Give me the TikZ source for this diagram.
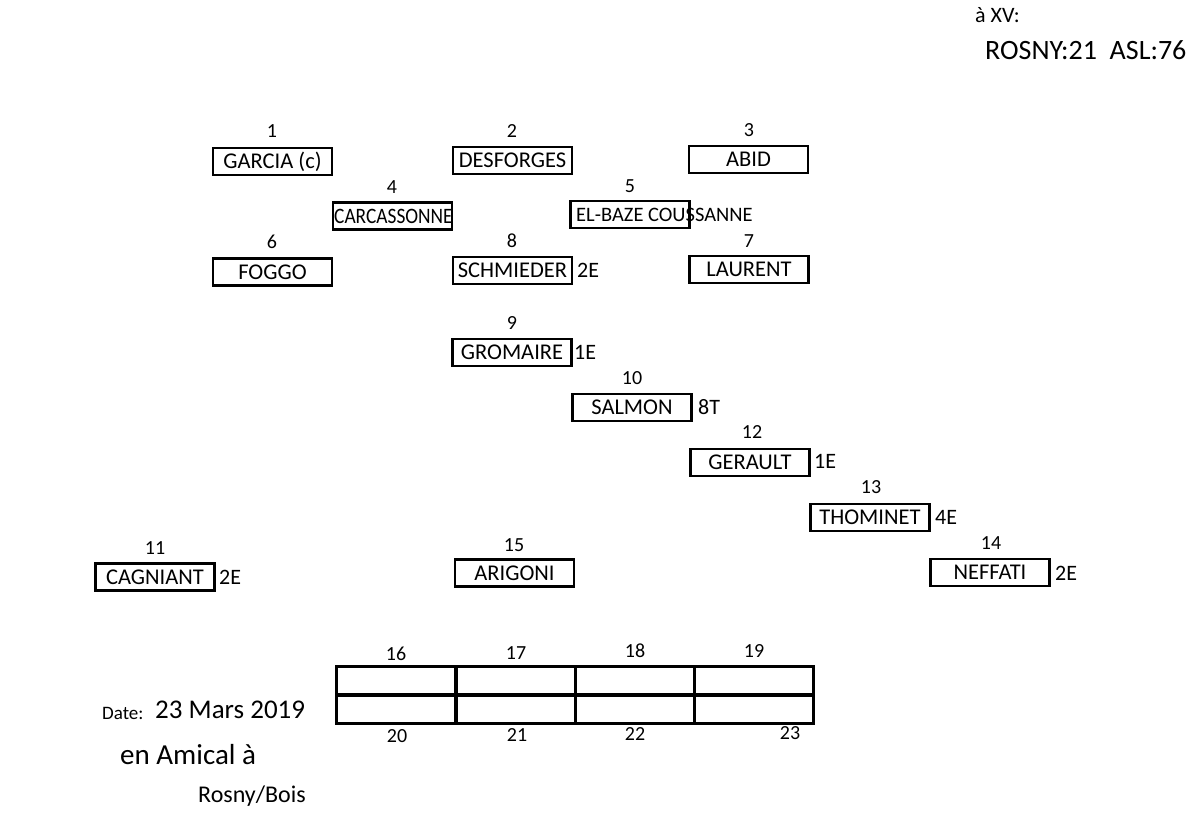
\documentclass[tikz,border=0pt]{standalone}
\usepackage{fontspec}
\setmainfont{Carlito}
\begin{document}
\begin{tikzpicture}[x=1pt,y=-1pt,
  seat/.style={draw,line width=2.8pt,minimum width=119pt,minimum height=27pt,inner sep=0pt,font=\fontsize{22.5}{22.5}\selectfont},
  cell/.style={draw,line width=3pt,minimum width=119pt,minimum height=28pt,inner sep=0pt},
  num/.style={font=\fontsize{20}{20}\selectfont,inner sep=0pt},
  note/.style={font=\fontsize{22}{22}\selectfont,inner sep=0pt,anchor=west},
  hand/.style={font=\fontsize{27}{27}\selectfont,inner sep=0pt,anchor=west}]
\useasboundingbox[fill=white] (0,0) rectangle (1200,839);
% seats
\node[seat] (p1) at (272.5,161.5) {GARCIA (c)};
\node[seat] (p2) at (512.5,160.5) {DESFORGES};
\node[seat] (p3) at (748.5,159.5) {ABID};
\node[seat] (p4) at (392.5,216) {};
\node[note] (t4) at (334,216) {\scalebox{0.88}[1]{CARCASSONNE}};
\node[seat] (p5) at (630,214.5) {};
\node[note,font=\fontsize{20.5}{20.5}\selectfont] (t5) at (576,215) {EL-BAZE COUSSANNE};
\node[seat] (p6) at (272.5,272) {FOGGO};
\node[seat] (p7) at (749,269.5) {LAURENT};
\node[seat] (p8) at (512.5,270.5) {SCHMIEDER};
\node[seat] (p9) at (512,352.5) {GROMAIRE};
\node[seat] (p10) at (632,407.5) {SALMON};
\node[seat] (p11) at (155,577) {CAGNIANT};
\node[seat] (p12) at (750,462.5) {GERAULT};
\node[seat] (p13) at (870,517.5) {THOMINET};
\node[seat] (p14) at (990,572.5) {NEFFATI};
\node[seat] (p15) at (514.5,573) {ARIGONI};
% numbers
\node[num] (n1) at (272,131) {1};
\node[num] (n2) at (512,131) {2};
\node[num] (n3) at (749,130) {3};
\node[num] (n4) at (392,187) {4};
\node[num] (n5) at (630,186) {5};
\node[num] (n6) at (272,242) {6};
\node[num] (n7) at (749,241) {7};
\node[num] (n8) at (512,241) {8};
\node[num] (n9) at (512,323) {9};
\node[num] (n10) at (632,378) {10};
\node[num] (n11) at (155,548) {11};
\node[num] (n12) at (752,432) {12};
\node[num] (n13) at (871,487) {13};
\node[num] (n14) at (991,543) {14};
\node[num] (n15) at (514,545) {15};
% side notes
\node[note] (e8) at (577,270) {2E};
\node[note] (e9) at (574,352) {1E};
\node[note] (e10) at (698,407) {8T};
\node[note] (e11) at (219,577) {2E};
\node[note] (e12) at (814,461) {1E};
\node[note] (e13) at (935,517) {4E};
\node[note] (e14) at (1055,573) {2E};
% table
\node[cell] (c16) at (395.5,680.5) {};
\node[cell] (c17) at (515.5,680.5) {};
\node[cell] (c18) at (634.5,680.5) {};
\node[cell] (c19) at (753.5,680.5) {};
\node[cell] (c20) at (395.5,709) {};
\node[cell] (c21) at (515.5,709) {};
\node[cell] (c22) at (634.5,709) {};
\node[cell] (c23) at (753.5,709) {};
\node[num] (n16) at (396,654) {16};
\node[num] (n17) at (516,653) {17};
\node[num] (n18) at (635,651) {18};
\node[num] (n19) at (754,651) {19};
\node[num] (n20) at (397,736) {20};
\node[num] (n21) at (517,735) {21};
\node[num] (n22) at (635,734) {22};
\node[num] (n23) at (790,733) {23};
% date
\node[inner sep=0pt,anchor=west,font=\fontsize{19}{19}\selectfont] (date) at (102,713) {Date:};
\node[hand] (d1) at (155,710) {23 Mars 2019};
\node[hand,font=\fontsize{29}{29}\selectfont] (d2) at (120,755) {en Amical à};
\node[hand,font=\fontsize{24}{24}\selectfont] (d3) at (198,796) {Rosny/Bois};
% top right
\node[hand,font=\fontsize{22}{22}\selectfont] (s1) at (975,15) {à XV:};
\node[hand,font=\fontsize{28}{28}\selectfont] (s2) at (985,50) {ROSNY:21 \ ASL:76};
\end{tikzpicture}
\end{document}
